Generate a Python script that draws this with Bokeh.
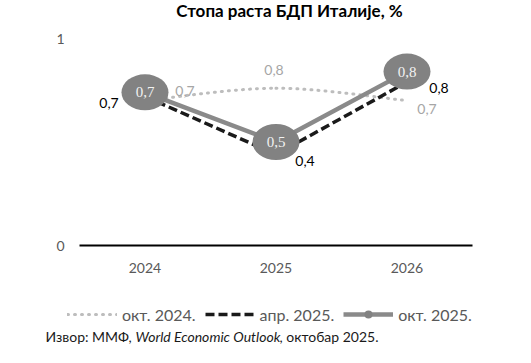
from bokeh.plotting import figure
from bokeh.models import Range1d, FixedTicker, Label, Legend, LegendItem
from bokeh.core.properties import value
from bokeh.embed import file_html
from bokeh.resources import INLINE

# ---------------- data ----------------
years = ["2024", "2025", "2026"]
okt2024 = [0.70, 0.76, 0.70]
apr2025 = [0.72, 0.44, 0.79]
okt2025 = [0.74, 0.50, 0.84]
y_ticks = [0, 1]
series_names = ["окт. 2024.", "апр. 2025.", "окт. 2025."]
title_text = "Стопа раста БДП Италије, %"
source_parts = ["Извор: ММФ, ", "World Economic Outlook", ", октобар 2025."]

xs = list(range(len(years)))


def fmt(v):
    return f"{v:.1f}".replace(".", ",")


def smooth_segments(px, py):
    """Cubic Bezier control points (Catmull-Rom style) through the data points."""
    n = len(px)
    out = {k: [] for k in ("x0", "y0", "x1", "y1", "cx0", "cy0", "cx1", "cy1")}
    for i in range(n - 1):
        ip = max(i - 1, 0)
        inx = min(i + 2, n - 1)
        out["x0"].append(px[i]); out["y0"].append(py[i])
        out["x1"].append(px[i + 1]); out["y1"].append(py[i + 1])
        out["cx0"].append(px[i] + (px[i + 1] - px[ip]) / 6)
        out["cy0"].append(py[i] + (py[i + 1] - py[ip]) / 6)
        out["cx1"].append(px[i + 1] - (px[inx] - px[i]) / 6)
        out["cy1"].append(py[i + 1] - (py[inx] - py[i]) / 6)
    return out


# ---------------- layout geometry (canvas pixels) ----------------
W, H = 515, 347
PL, PR, PT, PB = 79, 472, 38, 245      # where the data area sits on the canvas
X_LO, X_HI = -0.5, len(years) - 0.5
Y_LO, Y_HI = 0.0, 1.0
kx = (PR - PL) / (X_HI - X_LO)
ky = (PB - PT) / (Y_HI - Y_LO)
x_range = Range1d(X_LO - PL / kx, X_HI + (W - PR) / kx)
y_range = Range1d(Y_LO - (H - PB) / ky, Y_HI + PT / ky)

p = figure(width=W, height=H, output_backend="svg", toolbar_location=None,
           x_range=x_range, y_range=y_range, min_border=0)
p.outline_line_color = None
p.xgrid.visible = False
p.ygrid.visible = False


def sx(wx):
    return wx


def sy(wy):
    return H - wy


# axes (fixed at the data origin)
p.xaxis.fixed_location = 0
p.xaxis.bounds = (X_LO, X_HI)
p.xaxis.ticker = FixedTicker(ticks=xs)
p.xaxis.major_label_overrides = {i: y for i, y in enumerate(years)}
p.xaxis.axis_line_color = "black"
p.xaxis.axis_line_width = 2
p.xaxis.major_tick_line_color = None
p.xaxis.minor_tick_line_color = None
p.xaxis.major_label_standoff = 11
p.xaxis.major_label_text_font = "Lato"
p.xaxis.major_label_text_font_size = "14px"
p.xaxis.major_label_text_color = "#595959"

p.yaxis.fixed_location = X_LO
p.yaxis.ticker = FixedTicker(ticks=y_ticks)
p.yaxis.axis_line_color = None
p.yaxis.major_tick_line_color = None
p.yaxis.minor_tick_line_color = None
p.yaxis.major_label_standoff = 9
p.yaxis.major_label_text_font = "Lato"
p.yaxis.major_label_text_font_size = "14px"
p.yaxis.major_label_text_color = "#595959"

# okt. 2024 - smooth dotted light grey
seg = smooth_segments(xs, okt2024)
r1 = p.bezier(**seg, line_color="#bdbdbd", line_width=3, line_dash="1 6", line_cap="round")

# apr. 2025 - dashed black
r2 = p.line(xs, apr2025, line_color="#1a1a1a", line_width=3.5, line_dash="9 4")

# okt. 2025 - grey line + big ellipse markers (small circles for the legend sit beneath)
r3 = p.line(xs, okt2025, line_color="#8a8a8a", line_width=4.5)
r3m = p.scatter(xs, okt2025, marker="circle", size=11, fill_color="#828282", line_color=None)
p.ellipse(xs, okt2025, width=47, height=36, width_units="screen", height_units="screen",
          fill_color="#828282", line_color=None)

# data labels
p.text(xs, okt2025, text=[fmt(v) for v in okt2025], text_font=value("Liberation Serif"),
       text_font_size="15px", text_color="#f2f2f2", text_align="center",
       text_baseline="middle")

p.text(xs, apr2025, text=[fmt(v) for v in apr2025], text_font=value("Lato"),
       text_font_size="14px", text_color="#000000", text_align="center",
       text_baseline="middle", x_offset=[-36, 29, 32], y_offset=[7, 7, 6])

p.text(xs, okt2024, text=[fmt(v) for v in okt2024], text_font=value("Lato"),
       text_font_size="14px", text_color="#a6a6a6", text_align="center",
       text_baseline="middle", x_offset=[40, -2, 20], y_offset=[-10, -18, 8])

# legend
legend = Legend(items=[LegendItem(label=series_names[0], renderers=[r1]),
                       LegendItem(label=series_names[1], renderers=[r2]),
                       LegendItem(label=series_names[2], renderers=[r3, r3m])],
                orientation="horizontal", location=(sx(67), sy(324)),
                glyph_width=50, glyph_height=20, label_height=20,
                label_standoff=5, spacing=9, padding=0, margin=0,
                label_text_font="Lato", label_text_font_size="16px",
                label_text_color="#595959",
                border_line_color=None, background_fill_alpha=0)
p.add_layout(legend, "center")

# title
p.add_layout(Label(x=sx(289), y=sy(10), x_units="screen", y_units="screen",
                   text=title_text, text_align="center", text_baseline="middle",
                   text_font="Lato", text_font_style="bold", text_font_size="17px",
                   text_color="#000000"))

# source footer
foot_x = [45, 135, 279]
foot_style = ["normal", "italic", "normal"]
for part, fx, fs in zip(source_parts, foot_x, foot_style):
    p.add_layout(Label(x=sx(fx), y=sy(336), x_units="screen", y_units="screen",
                       text=part, text_align="left", text_baseline="middle",
                       text_font="Lato", text_font_style=fs, text_font_size="14px",
                       text_color="#1a1a1a"))

open("out.html", "w").write(file_html(p, INLINE))
